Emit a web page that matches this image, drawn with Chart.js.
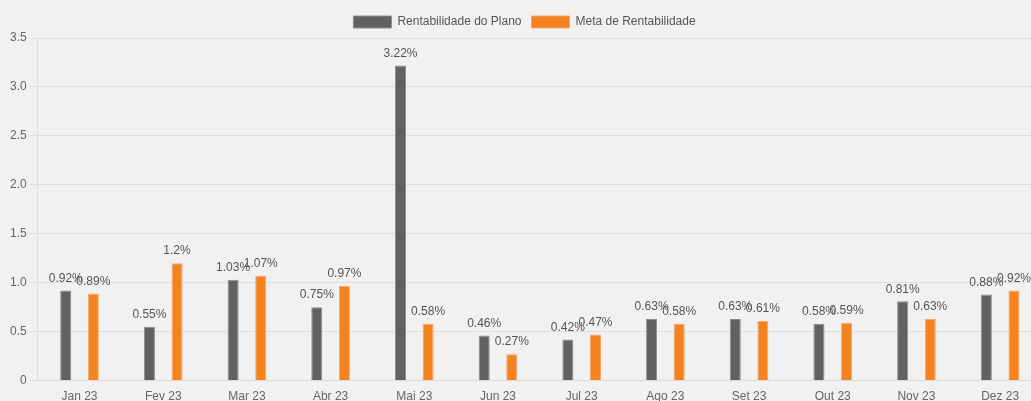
<!DOCTYPE html>
<html>
<head>
<meta charset="utf-8">
<script src="https://cdn.jsdelivr.net/npm/chart.js@4"></script>
<style>
    html, body { margin: 0; padding: 0; background: #f1f1f1; overflow: hidden; }
    #wrap { position: absolute; left: 0; top: 0; width: 1050px; height: 405px; }
</style>
</head>
<body>
<div id="wrap"><canvas id="rentChart"></canvas></div>
<script>
// --- Data ---
const months = ['Jan 23', 'Fev 23', 'Mar 23', 'Abr 23', 'Mai 23', 'Jun 23', 'Jul 23', 'Ago 23', 'Set 23', 'Out 23', 'Nov 23', 'Dez 23'];
const planoValues = [0.92, 0.55, 1.03, 0.75, 3.22, 0.46, 0.42, 0.63, 0.63, 0.58, 0.81, 0.88];
const metaValues = [0.89, 1.2, 1.07, 0.97, 0.58, 0.27, 0.47, 0.58, 0.61, 0.59, 0.63, 0.92];

// draws the value + '%' above each bar
const barLabels = {
    id: 'barLabels',
    afterDatasetsDraw(chart) {
        const ctx = chart.ctx;
        ctx.save();
        ctx.font = '12px "Liberation Sans", Arial, sans-serif';
        ctx.fillStyle = '#555';
        ctx.textAlign = 'center';
        ctx.textBaseline = 'bottom';
        chart.data.datasets.forEach((ds, i) => {
            chart.getDatasetMeta(i).data.forEach((bar, j) => {
                ctx.fillText(ds.data[j] + '%', bar.x, bar.y - 6);
            });
        });
        ctx.restore();
    }
};

Chart.defaults.font.family = '"Liberation Sans", Arial, sans-serif';
Chart.defaults.font.size = 12;
Chart.defaults.color = '#666';

new Chart(document.getElementById('rentChart').getContext('2d'), {
    type: 'bar',
    data: {
        labels: months,
        datasets: [{
            label: 'Rentabilidade do Plano',
            data: planoValues,
            backgroundColor: '#616161',
            borderColor: '#8c8c8c',
            borderWidth: 1
        }, {
            label: 'Meta de Rentabilidade',
            data: metaValues,
            backgroundColor: '#f58220',
            borderColor: '#f7a868',
            borderWidth: 1
        }]
    },
    options: {
        responsive: true,
        maintainAspectRatio: false,
        animation: false,
        categoryPercentage: 0.66,
        barPercentage: 0.4,
        layout: { padding: { top: 6, left: 7, right: 8 } },
        scales: {
            x: {
                grid: { display: false },
                border: { color: '#ddd' },
                ticks: { color: '#666', padding: 1 }
            },
            y: {
                min: 0,
                max: 3.5,
                grid: { color: '#dedede' },
                border: { color: '#ddd' },
                ticks: {
                    stepSize: 0.5,
                    color: '#666',
                    callback: function (value) { return value === 0 ? '0' : value.toFixed(1); }
                }
            }
        },
        plugins: {
            legend: {
                labels: { boxWidth: 38, boxHeight: 12, color: '#555' }
            },
            tooltip: { enabled: false }
        }
    },
    plugins: [barLabels]
});
</script>
</body>
</html>
